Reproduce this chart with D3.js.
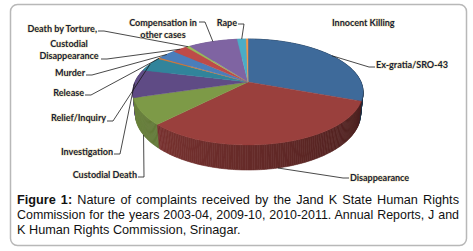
<!DOCTYPE html>
<html>
<head>
<meta charset="utf-8">
<script src="https://cdn.jsdelivr.net/npm/d3@7"></script>
<style>
  body { margin: 0; background: #fff; }
  svg { display: block; }
</style>
</head>
<body>
<svg id="chart" width="473" height="251"></svg>
<script>
// Slices, clockwise from 12 o'clock (estimated shares, %)
const categories = [
  'Ex-gratia/SRO-43', 'Disappearance', 'Custodial Death', 'Investigation',
  'Relief/Inquiry', 'Release', 'Murder', 'Custodial Disappearance',
  'Death by Torture,', 'Compensation in other cases', 'Rape', 'Innocent Killing',
];
const values = [30.7, 31.5, 8.1, 8.6, 4.4, 0.4, 3.1, 2.5, 0.6, 8.3, 1.5, 0.3];
const sliceColors = [
  '#3e6a9a', '#9a403d', '#7d9a47', '#5f4b85', '#31849b', '#e07a2e',
  '#4a7ebb', '#be4b48', '#9bbb59', '#7f64a2', '#4bacc6', '#f79646',
];

const captionBold = 'Figure 1:';
const captionLines = [
  'Nature of complaints received by the Jand K State Human Rights',
  'Commission for the years 2003-04, 2009-10, 2010-2011. Annual Reports, J and',
  'K Human Rights Commission, Srinagar.',
];

// label placement: text position, anchor, leader end (ex, ey), elbow side, line break
const labelLayout = [
  { x: 376, y: 68, anchor: 'start', ex: 375, ey: 67, dir: -1 },
  { x: 350, y: 181, anchor: 'start', ex: 349, ey: 178, dir: -1 },
  { x: 137, y: 178, anchor: 'end', ex: 138, ey: 177, dir: 1 },
  { x: 113, y: 155, anchor: 'end', ex: 114, ey: 154, dir: 1 },
  { x: 106, y: 121, anchor: 'end', ex: 107, ey: 121, dir: 1 },
  { x: 84, y: 96, anchor: 'end', ex: 85, ey: 95, dir: 1 },
  { x: 85, y: 76, anchor: 'end', ex: 86, ey: 75, dir: 1 },
  { x: 69, y: 47, anchor: 'middle', ex: 101, ey: 59, dir: 1, br: 1 },
  { x: 97, y: 32, anchor: 'end', ex: 98, ey: 31, dir: 1 },
  { x: 163, y: 26, anchor: 'middle', ex: 199, ey: 22, dir: 1, br: 2 },
  { x: 237, y: 26, anchor: 'end', ex: 238, ey: 24, dir: 1 },
  { x: 332, y: 26, anchor: 'start', ex: null },
];

const svg = d3.select('#chart');

svg.append('rect')
  .attr('x', 10.5).attr('y', 4.5)
  .attr('width', 456).attr('height', 241)
  .attr('rx', 7)
  .attr('fill', '#fff')
  .attr('stroke', '#b8b8b8')
  .attr('stroke-width', 1.5);

// perspective 3D pie projection
const cx = 248;
const cy = 82;
const focal = 534.5;
const dist = 4.73;
const sinE = 0.452;
const cosE = Math.sqrt(1 - sinE * sinE);
const depth = 0.22;

const project = (a, y) => {
  const x = Math.sin(a);
  const z = -Math.cos(a);
  const v = z * sinE - y * cosE;
  const w = dist - (z * cosE + y * sinE);
  return [cx + focal * x / w, cy + focal * v / w];
};

const arcs = d3.pie().sort(null).value(d => d)
  .startAngle(0).endAngle(2 * Math.PI)(values);

const shade = d3.scaleLinear()
  .domain([Math.PI / 2, 3 * Math.PI / 2])
  .range([0.42, 0.9])
  .clamp(true);

const sideColor = (i, a) => {
  const c = d3.rgb(sliceColors[i]);
  const k = shade(a);
  return d3.rgb(c.r * k, c.g * k, c.b * k).formatHex();
};

// side wall, drawn back to front
const segs = [];
arcs.forEach((d, i) => {
  const n = Math.max(1, Math.ceil((d.endAngle - d.startAngle) / (Math.PI / 180)));
  for (let k = 0; k < n; k++) {
    const a0 = d.startAngle + (d.endAngle - d.startAngle) * k / n;
    const a1 = d.startAngle + (d.endAngle - d.startAngle) * (k + 1) / n;
    segs.push({ i, a0, a1, z: -Math.cos((a0 + a1) / 2) });
  }
});
segs.sort((p, q) => p.z - q.z);

const line = d3.line();

svg.append('g').attr('class', 'sides')
  .selectAll('path')
  .data(segs)
  .enter().append('path')
    .attr('d', s => line([
      project(s.a0, 0), project(s.a1, 0),
      project(s.a1, -depth), project(s.a0, -depth),
    ]) + 'Z')
    .attr('fill', s => sideColor(s.i, (s.a0 + s.a1) / 2))
    .attr('stroke', s => sideColor(s.i, (s.a0 + s.a1) / 2))
    .attr('stroke-width', 0.6)
    .attr('stroke-linejoin', 'round');

// top face
const topPoints = (d) => {
  const pts = [[cx, cy]];
  const step = Math.PI / 720;
  for (let a = d.startAngle; a < d.endAngle; a += step) pts.push(project(a, 0));
  pts.push(project(d.endAngle, 0));
  return pts;
};

svg.append('g').attr('class', 'top')
  .selectAll('path')
  .data(arcs)
  .enter().append('path')
    .attr('d', d => line(topPoints(d)) + 'Z')
    .attr('fill', (d, i) => sliceColors[i])
    .attr('stroke', (d, i) => sliceColors[i])
    .attr('stroke-width', 0.4)
    .attr('stroke-linejoin', 'round');

// leader lines
const leaderAnchor = (d) => {
  const mid = (d.startAngle + d.endAngle) / 2;
  const z = -Math.cos(mid);
  return project(mid, z > 0.2 ? -depth : 0);
};

svg.append('g').attr('class', 'leaders')
  .selectAll('path')
  .data(arcs.filter((d, i) => labelLayout[i].ex !== null))
  .enter().append('path')
    .attr('d', (d) => {
      const L = labelLayout[d.index];
      return line([leaderAnchor(d), [L.ex + 6 * L.dir, L.ey], [L.ex, L.ey]]);
    })
    .attr('fill', 'none')
    .attr('stroke', '#1b1b1b')
    .attr('stroke-width', 0.8);

// labels
const labels = svg.append('g').attr('class', 'labels')
  .selectAll('text')
  .data(categories)
  .enter().append('text')
    .attr('x', (d, i) => labelLayout[i].x)
    .attr('y', (d, i) => labelLayout[i].y)
    .attr('text-anchor', (d, i) => labelLayout[i].anchor)
    .attr('font-family', 'Lato, "DejaVu Sans", sans-serif')
    .attr('font-weight', 'bold')
    .attr('font-size', 9)
    .attr('fill', '#14213d')
    .attr('stroke', '#f3e2a6')
    .attr('stroke-width', 1.2)
    .attr('stroke-opacity', 0.7)
    .attr('paint-order', 'stroke');

labels.each(function (name, i) {
  const L = labelLayout[i];
  const words = name.split(' ');
  const parts = L.br ? [words.slice(0, L.br).join(' '), words.slice(L.br).join(' ')] : [name];
  d3.select(this).selectAll('tspan')
    .data(parts)
    .enter().append('tspan')
      .attr('x', L.x)
      .attr('dy', (p, j) => (j === 0 ? 0 : 11.5))
      .text(p => p);
});

// caption, justified
const capLeft = 17;
const capRight = 459;
captionLines.forEach((txt, li) => {
  const t = svg.append('text')
    .attr('x', capLeft)
    .attr('y', 204 + li * 15)
    .attr('font-family', '"Liberation Sans", Arial, sans-serif')
    .attr('font-size', 12.7)
    .attr('fill', '#111')
    .style('white-space', 'pre');
  let full = txt;
  if (li === 0) {
    t.append('tspan').attr('font-weight', 'bold').text(captionBold + ' ');
    full = captionBold + ' ' + txt;
  }
  t.append('tspan').text(txt);
  if (li < captionLines.length - 1) {
    const w = t.node().getComputedTextLength();
    const gaps = full.split(' ').length - 1;
    const spacing = (capRight - capLeft - w) / gaps;
    if (spacing >= 0.5) {
      t.attr('word-spacing', spacing);
    } else {
      t.attr('word-spacing', 0.5)
        .attr('textLength', capRight - capLeft)
        .attr('lengthAdjust', 'spacingAndGlyphs');
    }
  }
});
</script>
</body>
</html>
